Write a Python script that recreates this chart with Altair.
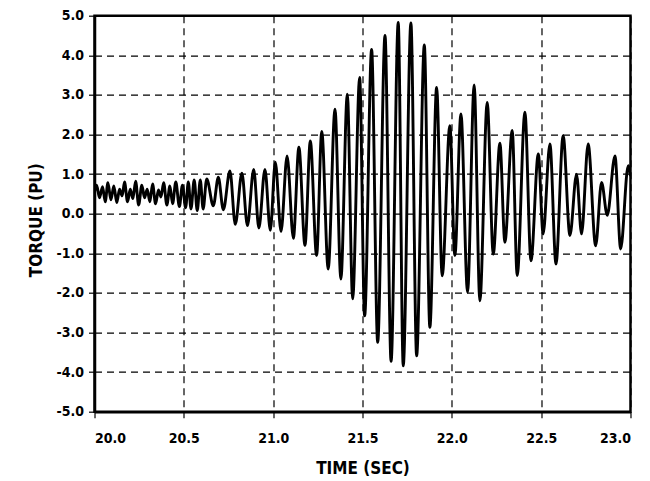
import altair as alt
import pandas as pd

# Extrema of the torque trace (time in s, torque in pu)
time_s = [
    20.000, 20.012, 20.028, 20.045, 20.060, 20.075, 20.092, 20.108, 20.125, 20.140,
    20.155, 20.168, 20.185, 20.200, 20.215, 20.230, 20.247, 20.265, 20.280, 20.295,
    20.310, 20.325, 20.342, 20.358, 20.372, 20.387, 20.405, 20.422, 20.437, 20.455,
    20.475, 20.492, 20.510, 20.525, 20.540, 20.558, 20.575, 20.592, 20.608, 20.628,
    20.665, 20.693, 20.721, 20.758, 20.788, 20.825, 20.856, 20.891, 20.920, 20.954,
    20.984, 21.012, 21.044, 21.078, 21.113, 21.144, 21.178, 21.208, 21.243, 21.272,
    21.308, 21.346, 21.379, 21.415, 21.445, 21.484, 21.512, 21.551, 21.585, 21.626,
    21.660, 21.700, 21.728, 21.771, 21.803, 21.846, 21.877, 21.915, 21.946, 21.989,
    22.017, 22.051, 22.088, 22.125, 22.157, 22.198, 22.232, 22.269, 22.297, 22.338,
    22.366, 22.409, 22.443, 22.484, 22.511, 22.549, 22.583, 22.623, 22.661, 22.698,
    22.726, 22.763, 22.805, 22.838, 22.870, 22.913, 22.945, 22.987, 23.000,
]
torque_pu = [
    0.55, 0.72, 0.40, 0.68, 0.30, 0.78, 0.35, 0.70, 0.28, 0.62,
    0.45, 0.80, 0.30, 0.62, 0.38, 0.82, 0.22, 0.72, 0.40, 0.62,
    0.30, 0.75, 0.25, 0.60, 0.42, 0.78, 0.22, 0.70, 0.25, 0.80,
    0.18, 0.72, 0.15, 0.80, 0.12, 0.85, 0.08, 0.85, 0.12, 0.88,
    0.20, 0.92, 0.10, 1.08, -0.27, 1.02, -0.30, 1.12, -0.36, 1.12,
    -0.42, 1.30, -0.45, 1.46, -0.62, 1.68, -0.80, 1.84, -1.06, 2.08,
    -1.40, 2.64, -1.65, 3.02, -2.15, 3.44, -2.58, 4.15, -3.25, 4.50,
    -3.73, 4.83, -3.84, 4.82, -3.59, 4.26, -2.87, 3.19, -1.57, 2.22,
    -1.06, 2.52, -1.98, 3.25, -2.20, 2.81, -1.02, 1.78, -0.72, 2.10,
    -1.56, 2.56, -1.19, 1.51, -0.51, 1.76, -1.27, 1.97, -0.55, 1.00,
    -0.51, 1.76, -0.81, 0.79, -0.04, 1.46, -0.89, 1.21, 0.95,
]

x_ticks = [20.0, 20.5, 21.0, 21.5, 22.0, 22.5, 23.0]
y_ticks = [-5.0, -4.0, -3.0, -2.0, -1.0, 0.0, 1.0, 2.0, 3.0, 4.0, 5.0]

df = pd.DataFrame({"t": time_s, "v": torque_pu})

FONT = "DejaVu Sans Condensed"
label_expr = "replace(format(datum.value, '.1f'), '\u2212', '-')"

chart = (
    alt.Chart(df)
    .mark_line(color="black", strokeWidth=2.9, interpolate="monotone", clip=True)
    .encode(
        x=alt.X(
            "t:Q",
            scale=alt.Scale(domain=[20.0, 23.0], nice=False, zero=False),
            axis=alt.Axis(
                values=x_ticks,
                labelExpr=label_expr,
                title="TIME (SEC)",
                labelPadding=14,
                titlePadding=15,
            ),
        ),
        y=alt.Y(
            "v:Q",
            scale=alt.Scale(domain=[-5.0, 5.0], nice=False, zero=False),
            axis=alt.Axis(
                values=y_ticks,
                labelExpr=label_expr,
                title="TORQUE (PU)",
                labelPadding=5,
                titlePadding=10,
                titleY=204,
            ),
        ),
    )
    .properties(
        width=536,
        height=396,
        autosize="none",
        padding={"left": 86.5, "top": 7.7, "right": 8, "bottom": 69},
    )
    .configure_view(stroke="black", strokeWidth=2.5)
    .configure_axis(
        grid=True,
        gridColor="black",
        gridDash=[7, 5],
        gridWidth=1.2,
        gridOpacity=1,
        domainColor="black",
        domainWidth=2.5,
        tickColor="black",
        tickSize=6,
        tickWidth=1.2,
        labelFont=FONT,
        labelFontWeight="bold",
        labelFontSize=14,
        labelColor="black",
        titleFont=FONT,
        titleFontWeight="bold",
        titleFontSize=17,
        titleColor="black",
    )
)

chart.save("out.html", embed_options={"renderer": "svg", "actions": False})
